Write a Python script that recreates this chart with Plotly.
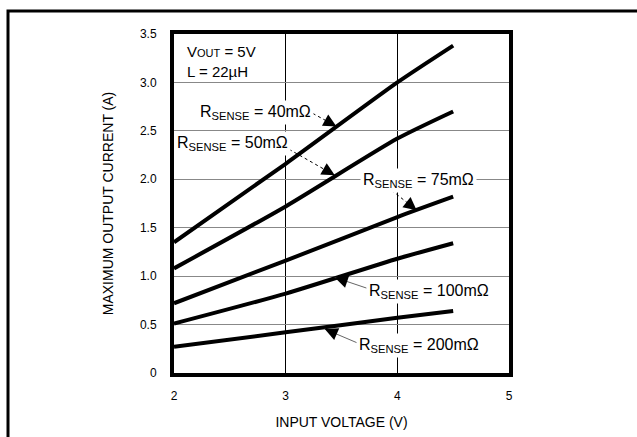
import plotly.graph_objects as go

# input voltage (V) and max output current (A) per sense resistor
vin = [2.0, 3.0, 4.0, 4.5]
i_40m = [1.35, 2.16, 3.00, 3.38]
i_50m = [1.08, 1.72, 2.42, 2.70]
i_75m = [0.72, 1.16, 1.61, 1.82]
i_100m = [0.51, 0.82, 1.18, 1.34]
i_200m = [0.27, 0.42, 0.57, 0.64]

x_ticks = [2, 3, 4, 5]
y_ticks = [0, 0.5, 1.0, 1.5, 2.0, 2.5, 3.0, 3.5]
y_ticklabels = ["0", "0.5", "1.0", "1.5", "2.0", "2.5", "3.0", "3.5"]

FONT = "Liberation Sans, Arial, sans-serif"
LABEL_FONT = dict(family=FONT, size=16, color="black")

fig = go.Figure()
for ys in [i_40m, i_50m, i_75m, i_100m, i_200m]:
    fig.add_trace(go.Scatter(
        x=vin, y=ys, mode="lines", showlegend=False,
        line=dict(color="black", width=4, shape="spline", smoothing=0.6),
    ))

# callouts: text, label centre, leader start, arrow tip, leader style, head fraction
callouts = [
    ("40", (2.733, 2.691), (3.243, 2.680), (3.455, 2.546), "dot", 0.45),
    ("50", (2.520, 2.371), (2.984, 2.340), (3.440, 2.041), "dot", 0.20),
    ("75", (4.191, 1.990), (3.949, 1.887), (4.173, 1.680), "dot", 0.38),
    ("100", (4.285, 0.838), (3.726, 0.876), (3.440, 0.987), "solid", 0.36),
    ("200", (4.195, 0.289), (3.645, 0.309), (3.350, 0.454), "solid", 0.34),
]
for val, (lx, ly), (sx, sy), (tx, ty), dash, f in callouts:
    fig.add_shape(type="line", xref="x", yref="y", x0=sx, y0=sy, x1=tx, y1=ty,
                  line=dict(color="black" if dash == "dot" else "#666666", width=1, dash=dash))
    fig.add_annotation(x=tx, y=ty, ax=tx + f * (sx - tx), ay=ty + f * (sy - ty),
                       axref="x", ayref="y", text="", showarrow=True,
                       arrowhead=2, arrowsize=2.6, arrowwidth=1, arrowcolor="black", standoff=0)
    fig.add_annotation(x=lx, y=ly, xref="x", yref="y", showarrow=False,
                       text=f"R<sub>SENSE</sub> = {val}mΩ", font=LABEL_FONT,
                       bgcolor="white", borderpad=2)

fig.add_annotation(x=2.098, y=3.43, xref="x", yref="y", xanchor="left", yanchor="top",
                   showarrow=False, align="left", font=dict(family=FONT, size=15, color="black"),
                   bgcolor="white",
                   text="V<span style='font-size:11px'>OUT</span> = 5V<br>L = 22µH")

# outer frame of the figure, cropped by the page edges
fig.add_shape(type="rect", xref="paper", yref="paper",
              x0=-0.4955, y0=-0.35, x1=1.5, y1=1.0676,
              line=dict(color="black", width=3))

fig.update_xaxes(
    range=[2, 5], tickvals=x_ticks, ticks="", ticklabelstandoff=9, automargin=False,
    showgrid=True, gridcolor="black", gridwidth=1, zeroline=False,
    showline=True, linecolor="black", linewidth=4, mirror=True,
    tickfont=dict(family=FONT, size=12, color="black"),
    title=dict(text="INPUT VOLTAGE (V)", font=dict(family=FONT, size=14, color="black"), standoff=16),
)
fig.update_yaxes(
    range=[0, 3.5], tickvals=y_ticks, ticktext=y_ticklabels, ticks="", ticklabelstandoff=11,
    automargin=False,
    showgrid=True, gridcolor="#888888", gridwidth=1, zeroline=False,
    showline=True, linecolor="black", linewidth=4, mirror=True,
    tickfont=dict(family=FONT, size=12, color="black"),
    title=dict(text="MAXIMUM OUTPUT CURRENT (A)", font=dict(family=FONT, size=14, color="black"), standoff=24),
)
fig.update_layout(
    width=637, height=437,
    margin=dict(l=174, r=128, t=34, b=64),
    paper_bgcolor="white", plot_bgcolor="white",
)
# drop the page's default body margin so the figure starts at the window corner
fig.write_html("out.html", config={"displayModeBar": False},
               post_script="document.body.style.margin = '0px';")
